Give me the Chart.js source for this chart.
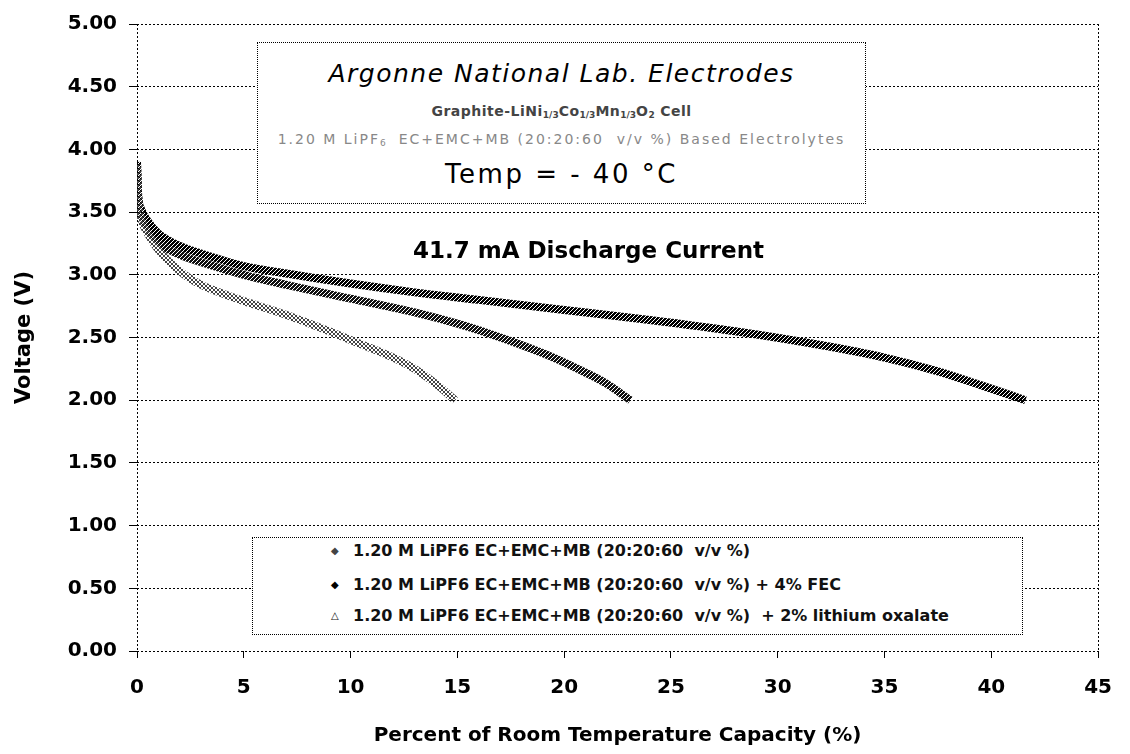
<!DOCTYPE html>
<html>
<head>
<meta charset="utf-8">
<script src="https://cdn.jsdelivr.net/npm/chart.js@4.4.1/dist/chart.umd.min.js"></script>
<style>
  body { margin: 0; background: #fff; }
  #wrap { position: relative; width: 1130px; height: 754px; font-family: 'DejaVu Sans', sans-serif; color: #000; }
  #chart { position: absolute; left: 0; top: 0; }
  .box { position: absolute; border: 1px dotted #000; background: #fff; }
  .line { position: absolute; left: 0; right: 0; text-align: center; line-height: 1; white-space: pre; }
  .note { position: absolute; font-weight: bold; font-size: 23px; white-space: nowrap; }
  .item { position: absolute; left: 78px; font-weight: bold; font-size: 16px; line-height: 1; white-space: pre; color: #111; }
  .item .mk { display: inline-block; width: 22px; font-size: 10px; vertical-align: 2px; }
  sub { font-size: 9px; vertical-align: -2px; letter-spacing: 0; }
</style>
</head>
<body>
<div id="wrap">
  <canvas id="chart" width="1130" height="754"></canvas>

  <!-- title box inside the plot -->
  <div class="box" style="left:257px; top:42px; width:607px; height:160px;">
    <div class="line" style="top:18px; font-size:25px; font-style:italic; letter-spacing:1.5px;">Argonne National Lab. Electrodes</div>
    <div class="line" style="top:61px; font-size:14px; font-weight:bold; color:#444; letter-spacing:0.5px;">Graphite-LiNi<sub>1/3</sub>Co<sub>1/3</sub>Mn<sub>1/3</sub>O<sub>2</sub> Cell</div>
    <div class="line" style="top:89px; font-size:14px; color:#888; letter-spacing:2px;">1.20 M LiPF<sub>6</sub>  EC+EMC+MB (20:20:60  v/v %) Based Electrolytes</div>
    <div class="line" style="top:118px; font-size:26px; letter-spacing:2.5px;">Temp = - 40 °C</div>
  </div>

  <div class="note" style="left:413px; top:237px;">41.7 mA Discharge Current</div>

  <!-- legend box -->
  <div class="box" id="legend" style="left:252px; top:537px; width:769px; height:96px;"></div>
</div>

<script>
// capacity (% of room temp capacity) vs voltage (V)
const capBase = [0, 0.05, 0.2, 0.5, 1, 2, 3, 4, 5, 7, 9, 10, 12, 13, 14, 14.9];
const voltBase = [3.88, 3.62, 3.45, 3.33, 3.20, 3.03, 2.92, 2.85, 2.79, 2.68, 2.55, 2.48, 2.34, 2.25, 2.13, 2.00];

const capFEC = [0, 0.05, 0.2, 0.5, 1, 2, 3, 5, 7, 10, 13, 16, 20, 24, 28, 32, 35, 37.5, 39.5, 41.6];
const voltFEC = [3.90, 3.65, 3.52, 3.43, 3.33, 3.23, 3.17, 3.07, 3.01, 2.93, 2.86, 2.80, 2.72, 2.64, 2.55, 2.44, 2.34, 2.23, 2.12, 2.00];

const capOxalate = [0, 0.05, 0.2, 0.5, 1, 2, 3, 5, 7, 10, 13, 15, 16.5, 18, 19.5, 21, 22, 23.1];
const voltOxalate = [3.88, 3.62, 3.48, 3.38, 3.26, 3.16, 3.10, 3.00, 2.92, 2.81, 2.70, 2.61, 2.53, 2.44, 2.34, 2.22, 2.13, 2.00];

const seriesNames = [
  '1.20 M LiPF6 EC+EMC+MB (20:20:60  v/v %)',
  '1.20 M LiPF6 EC+EMC+MB (20:20:60  v/v %) + 4% FEC',
  '1.20 M LiPF6 EC+EMC+MB (20:20:60  v/v %)  + 2% lithium oxalate',
];
const seriesMarks = ['◆', '◆', '△'];
const seriesInk = ['#444', '#000', '#111'];

const xTicks = [0, 5, 10, 15, 20, 25, 30, 35, 40, 45];
const yTicks = [0, 0.5, 1, 1.5, 2, 2.5, 3, 3.5, 4, 4.5, 5];

// scanned look: dithered cross-hatch used as the line colour
function hatch(ink, dense) {
  const c = document.createElement('canvas');
  c.width = c.height = 4;
  const g = c.getContext('2d');
  g.fillStyle = ink;
  for (let i = 0; i < 4; i++) {
    g.fillRect(i, i, 1, 1);
    g.fillRect(i, 3 - i, 1, 1);
    if (dense) g.fillRect((i + 2) % 4, i, 1, 1);
  }
  return g.createPattern(c, 'repeat');
}

const toPoints = (xs, ys) => xs.map((x, i) => ({ x, y: ys[i] }));

const FONT = 'DejaVu Sans, sans-serif';

new Chart(document.getElementById('chart'), {
  type: 'line',
  data: {
    datasets: [
      { label: seriesNames[0], data: toPoints(capBase, voltBase), borderColor: hatch(seriesInk[0], false) },
      { label: seriesNames[1], data: toPoints(capFEC, voltFEC), borderColor: hatch(seriesInk[1], true) },
      { label: seriesNames[2], data: toPoints(capOxalate, voltOxalate), borderColor: hatch(seriesInk[2], true) },
    ].map(ds => ({
      ...ds,
      borderWidth: 8,
      pointRadius: 0,
      fill: false,
      cubicInterpolationMode: 'monotone',
    })),
  },
  options: {
    responsive: false,
    animation: false,
    layout: { padding: { top: 24, right: 21, bottom: 0, left: 0 } },
    plugins: {
      legend: { display: false },
      tooltip: { enabled: false },
    },
    scales: {
      x: {
        type: 'linear',
        min: 0,
        max: 45,
        afterBuildTicks: axis => { axis.ticks = xTicks.map(v => ({ value: v })); },
        afterFit: axis => { axis.height = 103; },
        border: { display: false, dash: [2, 2] },
        grid: {
          // only the frame lines at 0 and 45, no inner verticals
          color: ctx => (ctx.tick && (ctx.tick.value === 0 || ctx.tick.value === 45)) ? '#000' : 'rgba(0,0,0,0)',
          tickColor: '#000',
          tickLength: 7,
        },
        ticks: {
          color: '#000',
          padding: 18,
          font: { family: FONT, weight: 'bold', size: 20 },
        },
        title: {
          display: true,
          text: 'Percent of Room Temperature Capacity (%)',
          color: '#000',
          font: { family: FONT, weight: 'bold', size: 20 },
          padding: { top: 0, bottom: 6 },
        },
      },
      y: {
        min: 0,
        max: 5,
        afterBuildTicks: axis => { axis.ticks = yTicks.map(v => ({ value: v })); },
        afterFit: axis => { axis.width = 137; },
        border: { display: false, dash: [2, 2] },
        grid: { color: '#000', tickLength: 8 },
        ticks: {
          color: '#000',
          padding: 12,
          callback: v => v.toFixed(2),
          font: { family: FONT, weight: 'bold', size: 20 },
        },
        title: {
          display: true,
          text: 'Voltage (V)',
          color: '#000',
          font: { family: FONT, weight: 'bold', size: 21 },
          padding: { top: 12, bottom: 0 },
        },
      },
    },
  },
});

// legend rows
const legend = document.getElementById('legend');
const rowTops = [5, 39, 70];
seriesNames.forEach((name, i) => {
  const row = document.createElement('div');
  row.className = 'item';
  row.style.top = rowTops[i] + 'px';
  const mk = document.createElement('span');
  mk.className = 'mk';
  mk.textContent = seriesMarks[i];
  mk.style.color = seriesInk[i];
  row.appendChild(mk);
  row.appendChild(document.createTextNode(name));
  legend.appendChild(row);
});
</script>
</body>
</html>
